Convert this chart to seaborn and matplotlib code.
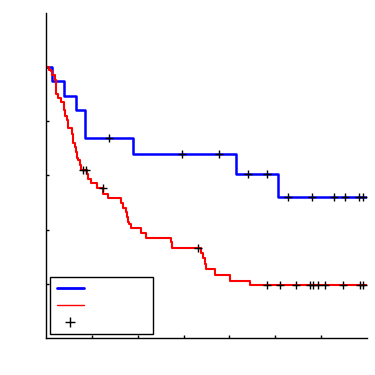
import numpy as np
import pandas as pd
import matplotlib
matplotlib.use('Agg')
import matplotlib.pyplot as plt
from matplotlib.lines import Line2D
import seaborn as sns

# Kaplan-Meier style step curves
blue_time = [0, 0.12, 0.39, 0.66, 0.85, 1.90, 4.15, 5.07, 7.0]
blue_surv = [1.0, 0.949, 0.895, 0.843, 0.738, 0.679, 0.604, 0.522, 0.522]
blue_cens = [1.38, 2.96, 3.77, 4.40, 4.81, 5.28, 5.81, 6.27, 6.53, 6.83, 6.92]

red_time = [0, 0.07, 0.10, 0.14, 0.19, 0.21, 0.26, 0.33, 0.40, 0.42, 0.45, 0.47,
            0.57, 0.59, 0.63, 0.65, 0.68, 0.70, 0.74, 0.77, 0.885, 0.92, 0.99,
            1.115, 1.246, 1.354, 1.646, 1.68, 1.739, 1.767, 1.789, 1.811, 1.863,
            2.08, 2.189, 2.717, 2.754, 3.385, 3.42, 3.457, 3.493, 3.685, 4.022,
            4.457, 7.0]
red_surv = [1.0, 0.991, 0.984, 0.970, 0.952, 0.901, 0.886, 0.873, 0.841, 0.820,
            0.806, 0.774, 0.752, 0.720, 0.705, 0.687, 0.666, 0.656, 0.637, 0.621,
            0.606, 0.588, 0.571, 0.554, 0.532, 0.517, 0.498, 0.481, 0.465, 0.447,
            0.429, 0.420, 0.405, 0.388, 0.369, 0.353, 0.332, 0.313, 0.296, 0.274,
            0.255, 0.233, 0.211, 0.194, 0.194]
red_cens = [0.81, 0.87, 1.24, 3.31, 4.83, 5.10, 5.46, 5.75, 5.83, 5.94, 6.08,
            6.47, 6.84, 6.91]


def level_at(times, surv, t):
    i = np.searchsorted(times, t, side='right') - 1
    return surv[i]


blue = pd.DataFrame({'time': blue_time, 'surv': blue_surv})
red = pd.DataFrame({'time': red_time, 'surv': red_surv})
cens = pd.DataFrame({
    'time': blue_cens + red_cens,
    'surv': [level_at(blue_time, blue_surv, t) for t in blue_cens]
            + [level_at(red_time, red_surv, t) for t in red_cens],
})

sns.set_style('ticks')
fig = plt.figure(figsize=(3.75, 3.75), dpi=100)
ax = fig.add_axes([46 / 375, 37 / 375, 321 / 375, 325 / 375])

sns.lineplot(data=blue, x='time', y='surv', color='blue', lw=1.8,
             drawstyle='steps-post', estimator=None, ax=ax)
sns.lineplot(data=red, x='time', y='surv', color='red', lw=1.5,
             drawstyle='steps-post', estimator=None, ax=ax)
sns.scatterplot(data=cens, x='time', y='surv', marker='+', color='black',
                s=38, linewidth=1, zorder=5, ax=ax)

ax.set_xlim(0, 7)
ax.set_ylim(0, 1.2)
ax.set_xticks([1, 2, 3, 4, 5, 6])
ax.set_yticks([0.2, 0.4, 0.6, 0.8, 1.0])
ax.set_xticklabels([])
ax.set_yticklabels([])
ax.set_xlabel('')
ax.set_ylabel('')
ax.tick_params(direction='in', length=2.5, width=1, colors='black')
for side in ['top', 'right']:
    ax.spines[side].set_visible(False)
for side in ['left', 'bottom']:
    ax.spines[side].set_color('black')
    ax.spines[side].set_linewidth(1)

handles = [
    Line2D([], [], color='blue', lw=2),
    Line2D([], [], color='red', lw=1),
    Line2D([], [], color='black', marker='+', ls='none', markersize=7, mew=1),
]
leg = ax.legend(handles, [' ', ' ', ' '], loc='lower left',
                bbox_to_anchor=(0.0134, 0.012, 0.319, 0.2), mode='expand',
                fontsize=8, labelspacing=0.6, handlelength=2.4, borderpad=0.6,
                borderaxespad=0, fancybox=False, framealpha=1)
leg.get_frame().set_edgecolor('black')
leg.get_frame().set_linewidth(1)

fig.savefig('out.png', dpi=100)
